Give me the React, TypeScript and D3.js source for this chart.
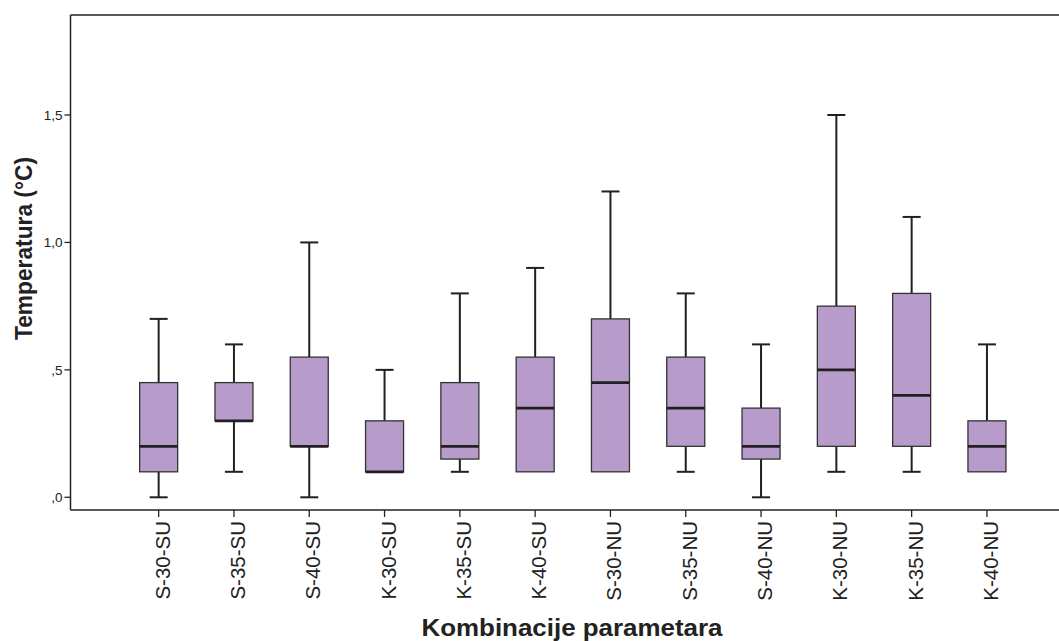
import React from "react";
import * as d3 from "d3";

const categories = ["S-30-SU","S-35-SU","S-40-SU","K-30-SU","K-35-SU","K-40-SU","S-30-NU","S-35-NU","S-40-NU","K-30-NU","K-35-NU","K-40-NU"];
const whiskerLow = [0.0, 0.1, 0.0, 0.1, 0.1, 0.1, 0.1, 0.1, 0.0, 0.1, 0.1, 0.1];
const q1 = [0.1, 0.3, 0.2, 0.1, 0.15, 0.1, 0.1, 0.2, 0.15, 0.2, 0.2, 0.1];
const median = [0.2, 0.3, 0.2, 0.1, 0.2, 0.35, 0.45, 0.35, 0.2, 0.5, 0.4, 0.2];
const q3 = [0.45, 0.45, 0.55, 0.3, 0.45, 0.55, 0.7, 0.55, 0.35, 0.75, 0.8, 0.3];
const whiskerHigh = [0.7, 0.6, 1.0, 0.5, 0.8, 0.9, 1.2, 0.8, 0.6, 1.5, 1.1, 0.6];
const yTicks = [0, 0.5, 1.0, 1.5];
const yTickLabels = [",0", ",5", "1,0", "1,5"];

export default function App() {
  const W = 1059, H = 641;
  const left = 70.5, top = 15, bottom = 510;
  const y = d3.scaleLinear().domain([0, 1.5]).range([497.3, 115]);
  const x = d3.scaleBand<string>().domain(categories).range([121, 1024.6]).padding(0);
  const bw = 38, cap = 18;
  const fill = "#b79bca";
  const dark = "#231f20";
  const font = "Arial, 'Liberation Sans', sans-serif";
  return (
    <svg width={W} height={H} style={{ position: "absolute", left: 0, top: 0, background: "#fff" }} fontFamily={font}>
      {/* frame */}
      <line x1={left} x2={W} y1={top} y2={top} stroke="#222" strokeWidth={1.5} />
      <line x1={left} x2={left} y1={top} y2={bottom} stroke="#222" strokeWidth={1.5} />
      <line x1={left} x2={W} y1={bottom} y2={bottom} stroke="#222" strokeWidth={1.5} />
      {/* y ticks */}
      {yTicks.map((t, i) => (
        <g key={i}>
          <line x1={left - 6} x2={left} y1={y(t)} y2={y(t)} stroke="#222" strokeWidth={1.3} />
          <text x={left - 8} y={y(t)} dy="0.35em" textAnchor="end" fontSize={13.5} fill="#222">{yTickLabels[i]}</text>
        </g>
      ))}
      {/* boxes */}
      {categories.map((c, i) => {
        const cx = (x(c) as number) + x.bandwidth() / 2;
        return (
          <g key={c}>
            <line x1={cx} x2={cx} y1={y(whiskerHigh[i])} y2={y(q3[i])} stroke={dark} strokeWidth={2} />
            <line x1={cx} x2={cx} y1={y(q1[i])} y2={y(whiskerLow[i])} stroke={dark} strokeWidth={2} />
            {whiskerHigh[i] > q3[i] && (
              <line x1={cx - cap / 2} x2={cx + cap / 2} y1={y(whiskerHigh[i])} y2={y(whiskerHigh[i])} stroke={dark} strokeWidth={2} />
            )}
            {whiskerLow[i] < q1[i] && (
              <line x1={cx - cap / 2} x2={cx + cap / 2} y1={y(whiskerLow[i])} y2={y(whiskerLow[i])} stroke={dark} strokeWidth={2} />
            )}
            <rect x={cx - bw / 2} y={y(q3[i])} width={bw} height={y(q1[i]) - y(q3[i])} fill={fill} stroke="#333" strokeWidth={1.3} />
            <line x1={cx - bw / 2} x2={cx + bw / 2} y1={y(median[i])} y2={y(median[i])} stroke={dark} strokeWidth={2.8} />
            <line x1={cx} x2={cx} y1={bottom} y2={bottom + 7} stroke="#222" strokeWidth={1.3} />
            <text transform={`translate(${cx},${bottom + 11}) rotate(-90)`} dy={11} textAnchor="end" fontSize={20.5} fill="#222">{c}</text>
          </g>
        );
      })}
      {/* axis titles */}
      <text x={572} y={636} textAnchor="middle" fontSize={24} fontWeight="bold" fill="#222" textLength={301} lengthAdjust="spacingAndGlyphs">Kombinacije parametara</text>
      <text transform={`translate(32,248.5) rotate(-90)`} textAnchor="middle" fontSize={23.5} fontWeight="bold" fill="#222" textLength={183} lengthAdjust="spacingAndGlyphs">Temperatura (°C)</text>
    </svg>
  );
}
